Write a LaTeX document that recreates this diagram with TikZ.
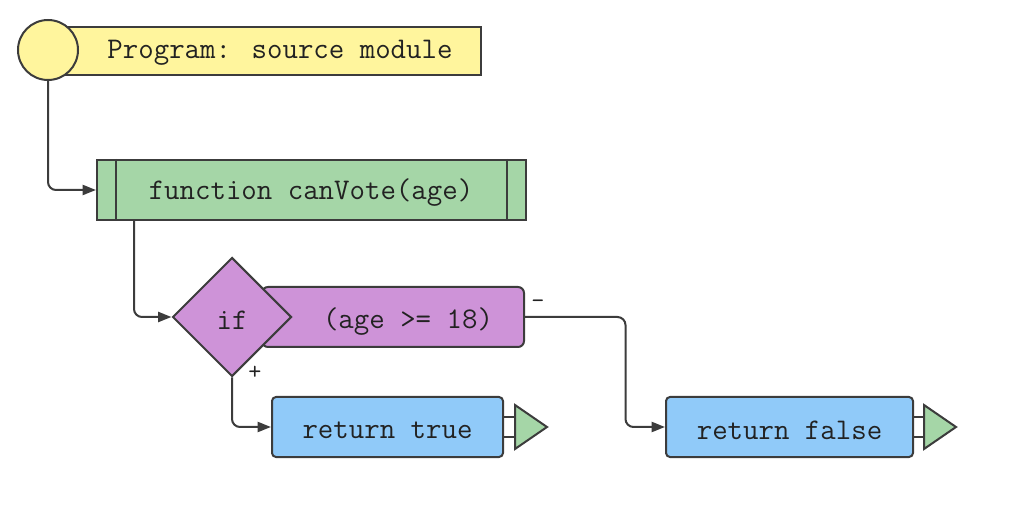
\documentclass[tikz,border=0pt]{standalone}
\usetikzlibrary{shapes.geometric,arrows.meta,calc}
\definecolor{strk}{HTML}{3C3C3C}
\definecolor{yel}{HTML}{FFF59D}
\definecolor{grn}{HTML}{A5D6A7}
\definecolor{pur}{HTML}{CE93D8}
\definecolor{blu}{HTML}{90CAF9}
\definecolor{txt}{HTML}{222222}
\tikzset{
  shp/.style={draw=strk, line width=1.5pt},
  code/.style={font=\ttfamily\fontsize{22.5}{25}\selectfont, text=txt},
  small/.style={font=\ttfamily\fontsize{19}{21}\selectfont, text=txt},
  conn/.style={draw=strk, line width=1.5pt, rounded corners=6pt, -{Triangle[length=10pt,width=7.5pt]}},
}
\begin{document}
\begin{tikzpicture}[x=0.75pt,y=-0.75pt]
\useasboundingbox (0,0) rectangle (1028,516);
% program header
\node[shp, fill=yel, rectangle, minimum width=312.75pt, minimum height=36pt, inner sep=0] (prog) at (272.5,51) {};
\node[code] (progtxt) at (280,53) {Program: source module};
\node[shp, fill=yel, circle, minimum size=45pt, inner sep=0] (start) at (48,50) {};
% function
\node[shp, fill=grn, rectangle, minimum width=321.75pt, minimum height=45pt, inner sep=0] (func) at (311.5,190) {};
\draw[shp] ($(func.north west)+(20,0)$) -- ($(func.south west)+(20,0)$);
\draw[shp] ($(func.north east)+(-20,0)$) -- ($(func.south east)+(-20,0)$);
\node[code] (functxt) at (311,193) {function canVote(age)};
% condition
\node[shp, fill=pur, rectangle, rounded corners=4.5pt, minimum width=196.5pt, minimum height=45pt, inner sep=0] (cond) at (393,317) {};
\node[code] (condtxt) at (408,322) {(age >= 18)};
\node[shp, fill=pur, diamond, minimum width=89.25pt, minimum height=89.25pt, inner sep=0] (dia) at (232,317) {};
\node[code] (iftxt) at (232,320) {if};
% returns
\node[shp, fill=blu, rectangle, rounded corners=3pt, minimum width=173.25pt, minimum height=45pt, inner sep=0] (rt) at (387.5,427) {};
\node[code] (rttxt) at (387.5,430) {return true};
\node[shp, fill=blu, rectangle, rounded corners=3pt, minimum width=185.25pt, minimum height=45pt, inner sep=0] (rf) at (789.5,427) {};
\node[code] (rftxt) at (789.5,430) {return false};
% end markers
\draw[shp] ($(rt.east)+(0,-10)$) -- +(11,0);
\draw[shp] ($(rt.east)+(0,10)$) -- +(11,0);
\draw[shp, fill=grn, line join=miter] ($(rt.east)+(11,-22)$) -- ($(rt.east)+(43,0)$) -- ($(rt.east)+(11,22)$) -- cycle;
\draw[shp] ($(rf.east)+(0,-10)$) -- +(10,0);
\draw[shp] ($(rf.east)+(0,10)$) -- +(10,0);
\draw[shp, fill=grn, line join=miter] ($(rf.east)+(10,-22)$) -- ($(rf.east)+(42,0)$) -- ($(rf.east)+(10,22)$) -- cycle;
% connectors
\coordinate (fdown) at ($(func.south west)+(38,0)$);
\coordinate (bend) at (625.5,317);
\draw[conn] (start.south) |- (func.west);
\draw[conn] (fdown) |- (dia.west);
\draw[conn] (dia.south) |- (rt.west);
\draw[conn] (cond.east) -- (bend) |- (rf.west);
\node[small] (minus) at (538,304) {-};
\node[small] (plus) at (255,373) {+};
\end{tikzpicture}
\end{document}
